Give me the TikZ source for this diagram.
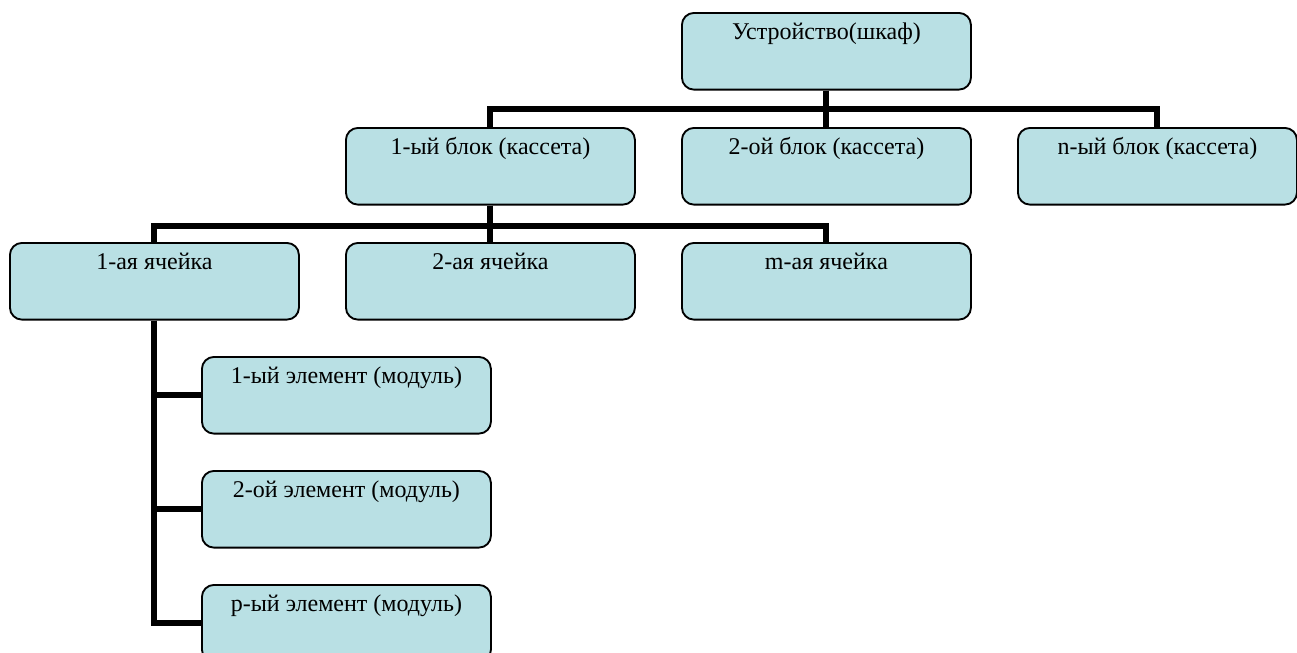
\documentclass[tikz,border=0pt]{standalone}
\usepackage{fontspec}
\setmainfont{Liberation Serif}
\usepackage{tikz}

\definecolor{boxfill}{RGB}{185,224,228}

\begin{document}
\begin{tikzpicture}[
    x=0.75pt, y=-0.75pt,
    unit/.style={shape=rectangle, draw=black, line width=1.4pt, fill=boxfill, rounded corners=9pt, anchor=north west, minimum width=216.75pt, inner xsep=0pt, inner ysep=0pt, text height=20pt, text depth=37.5pt, font=\fontsize{18}{21}\selectfont},
    bus/.style={draw=black, line width=4.5pt},
]
\useasboundingbox (0,0) rectangle (1297,653);

\node[unit] (dev) at (681, 12) {Устройство(шкаф)};
\node[unit] (blk1) at (345, 127) {1-ый блок (кассета)};
\node[unit] (blk2) at (681, 127) {2-ой блок (кассета)};
\node[unit, minimum width=209.25pt] (blkn) at (1017, 127) {n-ый блок (кассета)};
\node[unit] (cell1) at (9, 242) {1-ая ячейка};
\node[unit] (cell2) at (345, 242) {2-ая ячейка};
\node[unit] (cellm) at (681, 242) {m-ая ячейка};
\node[unit] (el1) at (201, 356) {1-ый элемент (модуль)};
\node[unit] (el2) at (201, 470) {2-ой элемент (модуль)};
\node[unit] (elp) at (201, 584) {p-ый элемент (модуль)};

\draw[bus] (dev.south) -- ++(0, 18) -| (blk1.north);
\draw[bus] (dev.south) -- (blk2.north);
\draw[bus] (dev.south) -- ++(0, 18) -| (blkn.north);
\draw[bus] (blk1.south) -- ++(0, 20) -| (cell1.north);
\draw[bus] (blk1.south) -- (cell2.north);
\draw[bus] (blk1.south) -- ++(0, 20) -| (cellm.north);
\draw[bus] (cell1.south) |- (el1.west);
\draw[bus] (cell1.south) |- (el2.west);
\draw[bus] (cell1.south) |- (elp.west);
\end{tikzpicture}
\end{document}
